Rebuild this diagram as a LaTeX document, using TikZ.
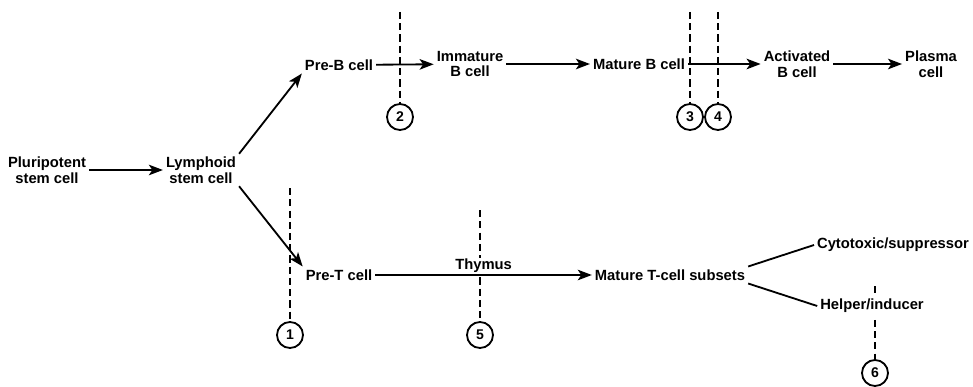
\documentclass[tikz,border=0pt]{standalone}
\usepackage{fontspec}
\setmainfont{Liberation Sans}
\usetikzlibrary{arrows.meta}
\begin{document}
\begin{tikzpicture}[x=0.025cm,y=-0.025cm,
    cell/.style={font=\fontsize{10.5}{11}\selectfont\bfseries, align=center, inner sep=2pt},
    flow/.style={line width=1.3pt, -{Stealth[length=10pt,width=7.5pt,inset=2.5pt]}},
    cut/.style={line width=2pt, dash pattern=on 5pt off 3pt},
    site/.style={circle, draw, line width=1.3pt, minimum size=18.5pt, inner sep=0pt,
                 font=\fontsize{10}{10}\selectfont\bfseries}]
  \useasboundingbox (0,0) rectangle (973,387);

% numbered sites and their dashed cut lines
  \node[site] (s1) at (290,335) {1};
  \node[site] (s2) at (400,117) {2};
  \node[site] (s3) at (690,117) {3};
  \node[site] (s4) at (718,117) {4};
  \node[site] (s5) at (480,335) {5};
  \node[site] (s6) at (875,373) {6};
  \coordinate (t1) at (290,188);
  \coordinate (t2) at (400,12);
  \coordinate (t3) at (690,12);
  \coordinate (t4) at (718,12);
  \coordinate (t5) at (480,210);
  \coordinate (t6) at (875,286);
  \foreach \n in {1,...,6} \draw[cut] (t\n) -- (s\n);

% cells
  \node[cell] (pluri)  at (47,170)  {Pluripotent\\stem cell};
  \node[cell] (lymph)  at (201,170) {Lymphoid\\stem cell};
  \node[cell] (preB)   at (339,65)  {Pre-B cell};
  \node[cell] (immB)   at (470,64)  {Immature\\B cell};
  \node[cell] (matB)   at (639,64)  {Mature B cell};
  \node[cell] (actB)   at (797,64)  {Activated\\B cell};
  \node[cell] (plasma) at (931,64)  {Plasma\\cell};
  \node[cell] (preT)   at (339,275) {Pre-T cell};
  \node[cell] (matT)   at (670,275) {Mature T-cell subsets};
  \node[cell] (cyto)   at (893,245) {Cytotoxic/suppressor};
  \node[cell, fill=white] (help) at (872,306) {Helper/inducer};

% B line
  \draw[flow] (pluri) -- (lymph);
  \draw[flow] (lymph.north east) -- (preB.south west);
  \draw[flow] (preB) -- (immB);
  \draw[flow] (immB) -- (matB);
  \draw[flow] (matB) -- (actB);
  \draw[flow] (actB) -- (plasma);

% T line
  \draw[flow] (lymph.south east) -- (preT.north west);
  \draw[flow] (preT) -- node[cell, above, fill=white, inner sep=1pt] (thymus) {Thymus} (matT);
  \draw[line width=1.3pt] (matT.north east) -- (cyto.west);
  \draw[line width=1.3pt] (matT.south east) -- (help.west);

\end{tikzpicture}
\end{document}
